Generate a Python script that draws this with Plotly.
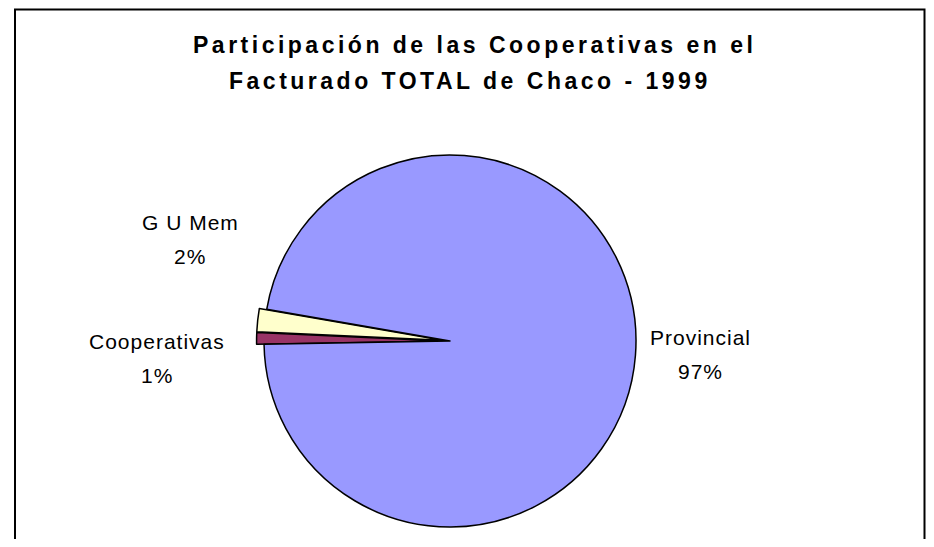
import plotly.graph_objects as go

# ── Data ──────────────────────────────────────────────────────────────────────
LABELS = ["Cooperativas", "G U Mem", "Provincial"]
VALUES = [1, 2, 97]
COLORS = ["#993366", "#FFFFCC", "#9999FF"]
PULLS = [0.04, 0.04, 0]

TITLE_LINES = [
    "Participación de las Cooperativas en el",
    "Facturado TOTAL de Chaco - 1999",
]

# ── Geometry (page pixels; the page body adds an 8px margin all round) ───────
PAGE_OFF = 8
W, H = 934 - 2 * PAGE_OFF, 547 - 2 * PAGE_OFF
CX, CY, R = 450, 341, 186

# title line anchors: (x centre, y centre)
TITLE_POS = [(474, 45.5), (470, 81)]

# label anchor points: (x centre, y of name line, y of percent line)
LABEL_POS = {
    "G U Mem": (190, 222, 256),
    "Cooperativas": (157, 341, 375),
    "Provincial": (700, 337, 371),
}

FONT = "Liberation Sans, Arial, sans-serif"


def px(x):
    return (x - PAGE_OFF) / W


def py(y):
    return 1 - (y - PAGE_OFF) / H


box = 2 * R * (1 + max(PULLS))
dom_x = [px(CX - box / 2 - 30), px(CX + box / 2 + 30)]
dom_y = [py(CY + box / 2), py(CY - box / 2)]

fig = go.Figure(go.Pie(
    labels=LABELS,
    values=VALUES,
    sort=False,
    direction="clockwise",
    rotation=269,
    pull=PULLS,
    marker=dict(colors=COLORS, line=dict(color="#000000", width=1.5)),
    textinfo="none",
    hoverinfo="label+percent",
    showlegend=False,
    domain=dict(x=dom_x, y=dom_y),
))

annotations = []

# title, two lines, spaced like the original
for text, (x, y) in zip(TITLE_LINES, TITLE_POS):
    annotations.append(dict(
        text=f"<span style='letter-spacing:3.5px'><b>{text}</b></span>",
        x=px(x), y=py(y), xref="paper", yref="paper",
        xanchor="center", yanchor="middle", showarrow=False,
        font=dict(family=FONT, size=23, color="#000000"),
    ))

# slice labels
for lab, val in zip(LABELS, VALUES):
    x, y_name, y_pct = LABEL_POS[lab]
    for text, y in [(lab, y_name), (f"{val}%", y_pct)]:
        annotations.append(dict(
            text=f"<span style='letter-spacing:1px'>{text}</span>",
            x=px(x), y=py(y), xref="paper", yref="paper",
            xanchor="center", yanchor="middle", showarrow=False,
            font=dict(family=FONT, size=21, color="#000000"),
        ))

shapes = [
    # chart-area frame, open past the bottom edge
    dict(type="rect", xref="paper", yref="paper",
         x0=px(15), x1=px(924.5), y0=py(570), y1=py(9.5),
         line=dict(color="#000000", width=2), layer="below"),
]

fig.update_layout(
    width=W, height=H,
    margin=dict(l=0, r=0, t=0, b=0),
    paper_bgcolor="#FFFFFF",
    plot_bgcolor="#FFFFFF",
    annotations=annotations,
    shapes=shapes,
)

fig.write_html("out.html")
